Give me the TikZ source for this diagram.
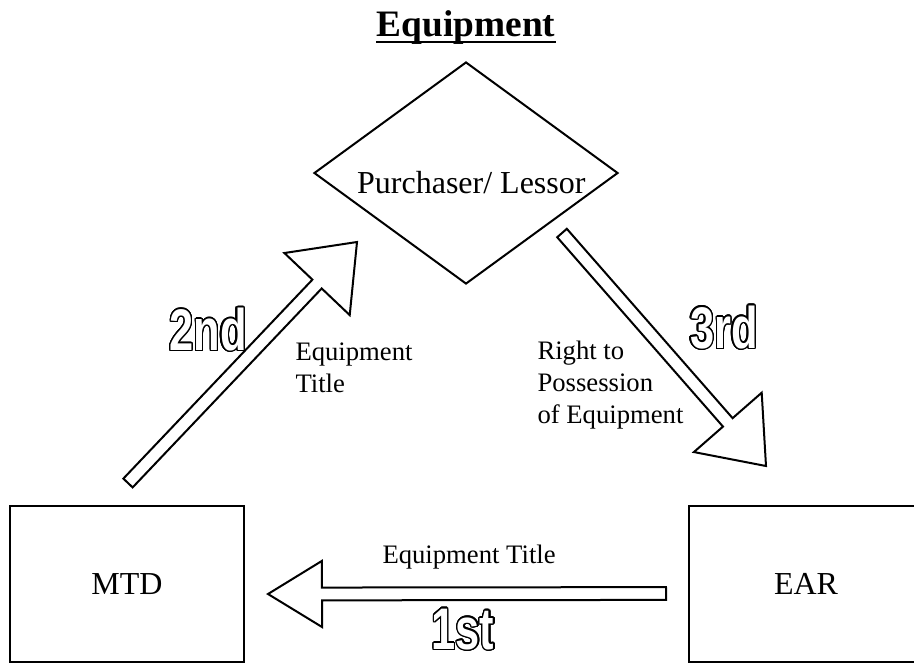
\documentclass[tikz,border=0pt]{standalone}
\usepackage{fontspec}
\setmainfont{Liberation Serif}
\newfontfamily\ordfont{Liberation Sans}[FakeStretch=0.74]
\usepackage[copies]{contour}
\contourlength{0.5pt}
\contournumber{24}
\usetikzlibrary{shapes.geometric,calc}

\tikzset{
  party/.style={draw,line width=0.75pt,minimum width=87.75pt,minimum height=58.5pt,inner sep=0pt,font=\fontsize{12}{14}\selectfont},
  bigarrow/.style={draw,line width=0.75pt,fill=white,line join=miter},
  note/.style={inner sep=0pt,align=left,font=\fontsize{10}{12}\selectfont},
  order/.style={inner sep=0pt,font=\ordfont\bfseries\fontsize{22}{24}\selectfont}
}

% outlined ordinal text
\newcommand{\hollow}[1]{\contour{black}{\textcolor{white}{#1}}}

% block arrow: tail, tip, head half width, head length
\newcommand{\blockarrow}[4]{%
  \path ($(#2)!#4!(#1)$) coordinate (neck);
  \draw[bigarrow] ($(#1)!2.4pt!90:(#2)$) -- ($(neck)!2.4pt!90:(#2)$) -- ($(neck)!#3!90:(#2)$) -- (#2)
    -- ($(neck)!#3!-90:(#2)$) -- ($(neck)!2.4pt!-90:(#2)$) -- ($(#1)!2.4pt!-90:(#2)$) -- cycle;
}

\begin{document}
\begin{tikzpicture}[x=0.375pt,y=-0.375pt]
  \path[use as bounding box,clip] (0,0) rectangle (914,663);

  \node[inner sep=0pt,anchor=base,font=\bfseries\fontsize{14}{16}\selectfont] (title) at (466,36) {Equipment};
  \draw[line width=0.9pt] ([yshift=-2.25pt]title.base west) -- ([yshift=-2.25pt]title.base east);

  \node[diamond,draw,line width=0.75pt,aspect=1.37,minimum width=114pt,minimum height=83.25pt,inner sep=0pt,
        label={[xshift=2pt,yshift=-3.6pt,font=\fontsize{12}{14}\selectfont]center:Purchaser/ Lessor}] (buyer) at (466,173) {};
  \node[party] (mtd) at (127,584) {MTD};
  \node[party] (ear) at (806,584) {EAR};

  \coordinate (t2) at (128,483);
  \coordinate (h2) at (357,242);
  \coordinate (t3) at (562,233);
  \coordinate (h3) at (766,466);
  \coordinate (t1) at (666,593.5);
  \coordinate (h1) at (268,594);

  \blockarrow{t2}{h2}{16.9pt}{21.75pt}
  \blockarrow{t3}{h3}{16.9pt}{21.75pt}
  \blockarrow{t1}{h1}{12.4pt}{20.25pt}

  \node[note,anchor=north west] (titlenote) at (295,342) {Equipment\\Title};
  \node[note,anchor=north west] (rightnote) at (537,340) {Right to\\Possession\\of Equipment};
  \node[note,anchor=base west] (bottomnote) at (382,563) {Equipment Title};

  \node[order] (second) at (208,330) {\hollow{2nd}};
  \node[order] (third) at (724,328) {\hollow{3rd}};
  \node[order] (first) at (463,630) {\hollow{1st}};
\end{tikzpicture}
\end{document}
